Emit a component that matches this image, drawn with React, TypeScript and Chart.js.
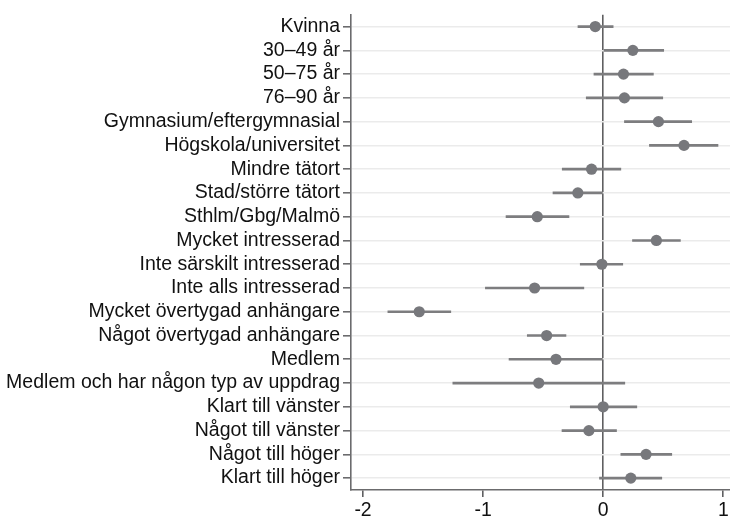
import React, { useEffect, useRef } from "react";
import { Chart, registerables } from "chart.js";

Chart.register(...registerables);

const categories: string[] = [
  "Kvinna",
  "30–49 år",
  "50–75 år",
  "76–90 år",
  "Gymnasium/eftergymnasial",
  "Högskola/universitet",
  "Mindre tätort",
  "Stad/större tätort",
  "Sthlm/Gbg/Malmö",
  "Mycket intresserad",
  "Inte särskilt intresserad",
  "Inte alls intresserad",
  "Mycket övertygad anhängare",
  "Något övertygad anhängare",
  "Medlem",
  "Medlem och har någon typ av uppdrag",
  "Klart till vänster",
  "Något till vänster",
  "Något till höger",
  "Klart till höger",
];

const estimates: number[] = [
  -0.066, 0.247, 0.169, 0.177, 0.46, 0.673, -0.097, -0.211, -0.549, 0.443,
  -0.011, -0.571, -1.532, -0.471, -0.393, -0.537, 0.0, -0.119, 0.357, 0.23,
];

const lower: number[] = [
  -0.21, 0.0, -0.077, -0.141, 0.177, 0.385, -0.341, -0.418, -0.809, 0.244,
  -0.191, -0.981, -1.793, -0.632, -0.784, -1.252, -0.274, -0.343, 0.147, -0.031,
];

const upper: number[] = [
  0.083, 0.504, 0.418, 0.496, 0.737, 0.956, 0.147, 0.0, -0.285, 0.643,
  0.163, -0.161, -1.269, -0.31, 0.0, 0.18, 0.28, 0.111, 0.571, 0.488,
];

const xTicks: number[] = [-2, -1, 0, 1];

const FONT = "'Liberation Sans', Arial, Helvetica, sans-serif";

export default function App() {
  const ref = useRef<HTMLCanvasElement | null>(null);

  useEffect(() => {
    if (!ref.current) return;
    const chart = new Chart(ref.current, {
      type: "scatter",
      data: {
        datasets: [
          {
            type: "scatter",
            order: 0,
            data: estimates.map((v, i) => ({ x: v, y: i })),
            pointRadius: 5.6,
            pointBackgroundColor: "#77787c",
            pointBorderColor: "#77787c",
            pointBorderWidth: 0,
            pointHoverRadius: 5.6,
          } as any,
          {
            type: "bar",
            order: 1,
            indexAxis: "y",
            data: lower.map((l, i) => ({ y: i, x: [l, upper[i]] })),
            backgroundColor: "#7d7d7f",
            borderWidth: 0,
            barThickness: 2,
            grouped: false,
          } as any,
        ],
      },
      options: {
        animation: false,
        responsive: true,
        maintainAspectRatio: false,
        layout: { autoPadding: false, padding: { top: 12, right: 0, left: 0, bottom: 0 } },
        plugins: {
          legend: { display: false },
          tooltip: { enabled: false },
        },
        scales: {
          x: {
            type: "linear",
            offset: false,
            min: -2.1,
            max: 1.056,
            afterBuildTicks: (axis: any) => {
              axis.ticks = xTicks.map((v) => ({ value: v }));
            },
            afterFit: (axis: any) => {
              axis.height = 26;
              axis.paddingRight = 0;
              axis.paddingLeft = 0;
            },
            ticks: {
              color: "#111111",
              font: { family: FONT, size: 19.4 },
              padding: 2,
              maxRotation: 0,
              callback: (v: any) => String(v),
            },
            grid: {
              offset: false,
              drawOnChartArea: true,
              color: (ctx: any) =>
                ctx.tick && ctx.tick.value === 0 ? "#5f5f61" : "rgba(0,0,0,0)",
              lineWidth: 1.6,
              tickColor: "#5f5f61",
              tickLength: 7,
            },
            border: { display: true, color: "#6b6b6d", width: 1.6 },
          },
          y: {
            type: "linear",
            offset: false,
            reverse: true,
            min: -0.5,
            max: 19.5,
            afterBuildTicks: (axis: any) => {
              axis.ticks = categories.map((_, i) => ({ value: i }));
            },
            afterFit: (axis: any) => {
              axis.width = 351;
            },
            ticks: {
              color: "#111111",
              font: { family: FONT, size: 19.5 },
              padding: 3,
              autoSkip: false,
              callback: (v: any) => categories[v as number] ?? "",
            },
            grid: {
              offset: false,
              color: "#ebebeb",
              lineWidth: 1.6,
              tickColor: "#6b6b6d",
              tickLength: 8,
            },
            border: { display: true, color: "#6b6b6d", width: 1.6 },
          },
        },
      },
    });
    return () => chart.destroy();
  }, []);

  return (
    <div style={{ position: "fixed", left: 0, top: 0, width: 730, height: 516, background: "#fff" }}>
      <canvas ref={ref} />
    </div>
  );
}
